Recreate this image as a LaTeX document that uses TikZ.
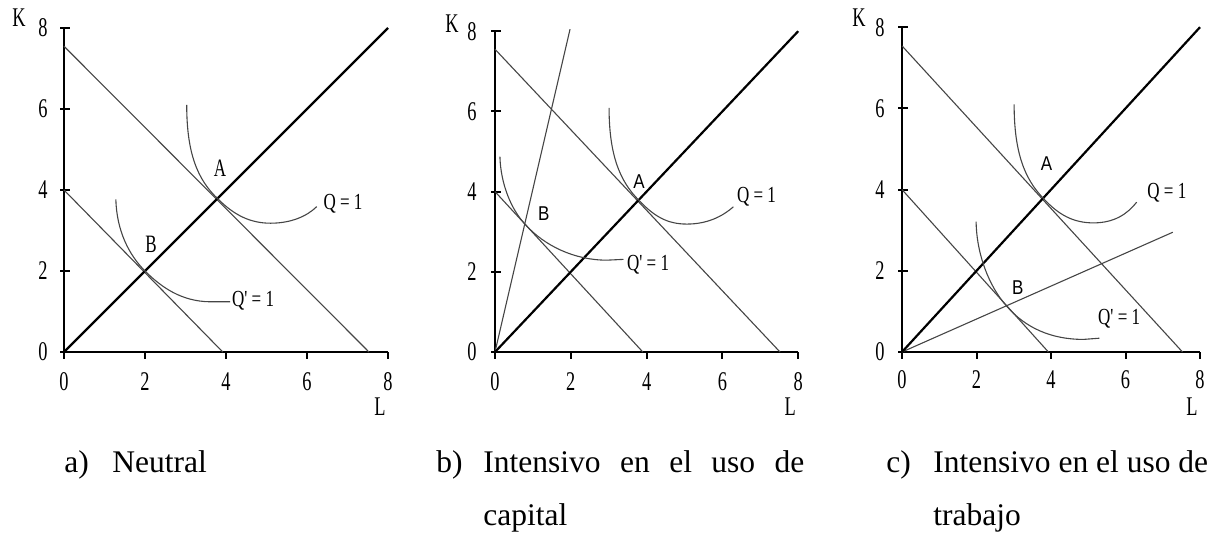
\documentclass[tikz,border=0pt]{standalone}
\usepackage{fontspec}
\setmainfont{Liberation Serif}
\newfontfamily\kserif[FakeStretch=0.68]{Liberation Serif}
\newfontfamily\qserif[FakeStretch=0.74]{Liberation Serif}
\newfontfamily\ksans[FakeStretch=0.85]{Liberation Sans}
\usepackage{tikz}
\usetikzlibrary{positioning,calc}
\definecolor{isoline}{rgb}{0.27,0.27,0.27}

\begin{document}
\begin{tikzpicture}[
  x=0.5pt, y=-0.5pt,
  axis/.style={black, line width=1pt},
  ray/.style={black, line width=1.1pt},
  thin/.style={isoline, line width=0.55pt},
  tick label/.style={inner sep=0pt, font=\kserif\fontsize{13.5}{13.5}\selectfont},
  axis label/.style={inner sep=0pt, font=\kserif\fontsize{13.5}{13.5}\selectfont},
  qlabel/.style={inner sep=0pt, font=\qserif\fontsize{11.5}{11.5}\selectfont},
  pt label/.style={inner sep=0pt, font=\kserif\fontsize{12.5}{12.5}\selectfont},
  pt sans/.style={inner sep=0pt, font=\ksans\fontsize{10}{10}\selectfont},
  caption/.style={inner sep=0pt, anchor=base west, font=\fontsize{15.75}{26.5}\selectfont}
]
\useasboundingbox (0,0) rectangle (1212,535);

% a) neutral
\begin{scope}[shift={(64,352)}, x={(20.25pt,0pt)}, y={(0pt,20.25pt)}]
  \draw[axis] (0,8) -- (0,0) -- (8,0);
  \foreach \k in {0,2,4,6,8} {
    \draw[axis] ($(0,\k)+(-2pt,0)$) -- ++(5pt,0);
    \draw[axis] (\k,0) -- ++(0,-3.5pt);
    \node[tick label, anchor=east, xshift=-8pt] (ya\k) at (0,\k) {\k};
    \node[tick label, anchor=north, yshift=-10pt] (xa\k) at (\k,0) {\k};
  }
  \node[axis label] (ka) at ($(0,8)+(-22.5pt,5pt)$) {K};
  \node[axis label] (la) at ($(8,0)+(-4pt,-27.5pt)$) {L};
  \draw[thin] (0,7.55) -- (7.53,0);
  \draw[thin] (0,4) -- (3.92,0);
  \draw[ray] (0,0) -- (8,8);
  \draw[thin] (3.03,6.1) .. controls (3.03,4.9) and (3.3,4.25) .. (3.8,3.78)
    .. controls (4.2,3.38) and (4.6,3.18) .. (5.1,3.18)
    .. controls (5.6,3.18) and (6.0,3.35) .. (6.24,3.59);
  \draw[thin] (1.28,3.77) .. controls (1.3,3.0) and (1.6,2.4) .. (2,2)
    .. controls (2.4,1.6) and (2.9,1.25) .. (3.6,1.24) -- (4.1,1.24);
  \node[pt label] (pa) at (3.85,4.54) {A};
  \node[pt label] (pb) at (2.15,2.67) {B};
  \node[qlabel] (qa) at (6.89,3.65) {Q = 1};
  \node[qlabel] (qpa) at (4.67,1.26) {Q' = 1};
\end{scope}

% b) capital intensive
\begin{scope}[shift={(495,352)}, x={(18.95pt,0pt)}, y={(0pt,20.05pt)}]
  \draw[axis] (0,8) -- (0,0) -- (8,0);
  \foreach \k in {0,2,4,6,8} {
    \draw[axis] ($(0,\k)+(-2pt,0)$) -- ++(5pt,0);
    \draw[axis] (\k,0) -- ++(0,-3.5pt);
    \node[tick label, anchor=east, xshift=-9pt] (yb\k) at (0,\k) {\k};
    \node[tick label, anchor=north, yshift=-10pt] (xb\k) at (\k,0) {\k};
  }
  \node[axis label] (kb) at ($(0,8)+(-21.5pt,4pt)$) {K};
  \node[axis label] (lb) at ($(8,0)+(-4pt,-27.5pt)$) {L};
  \draw[thin] (0,7.55) -- (7.52,0);
  \draw[thin] (0,4) -- (3.9,0);
  \draw[thin] (0,0) -- (1.98,8.05);
  \draw[ray] (0,0) -- (8,8);
  \draw[thin] (3.01,6.09) .. controls (3.01,4.9) and (3.3,4.25) .. (3.8,3.78)
    .. controls (4.2,3.38) and (4.55,3.19) .. (5.06,3.19)
    .. controls (5.6,3.19) and (6.0,3.38) .. (6.29,3.62);
  \draw[thin] (0.13,4.87) .. controls (0.15,4.2) and (0.42,3.56) .. (0.8,3.18)
    .. controls (1.3,2.65) and (2.1,2.29) .. (2.95,2.29) -- (3.39,2.31);
  \node[pt sans] (pa2) at (3.80,4.25) {A};
  \node[pt sans] (pb2) at (1.29,3.46) {B};
  \node[qlabel] (qb) at (6.90,3.87) {Q = 1};
  \node[qlabel] (qpb) at (4.04,2.17) {Q' = 1};
\end{scope}

% c) labour intensive
\begin{scope}[shift={(902,352)}, x={(18.625pt,0pt)}, y={(0pt,20.3pt)}]
  \draw[axis] (0,8) -- (0,0) -- (8,0);
  \foreach \k in {0,2,4,6,8} {
    \draw[axis] ($(0,\k)+(-2pt,0)$) -- ++(5pt,0);
    \draw[axis] (\k,0) -- ++(0,-3.5pt);
    \node[tick label, anchor=east, xshift=-8.5pt] (yc\k) at (0,\k) {\k};
    \node[tick label, anchor=north, yshift=-9pt] (xc\k) at (\k,0) {\k};
  }
  \node[axis label] (kc) at ($(0,8)+(-21.5pt,5pt)$) {K};
  \node[axis label] (lc) at ($(8,0)+(-4pt,-27.5pt)$) {L};
  \draw[thin] (0,7.54) -- (7.53,0);
  \draw[thin] (0,4) -- (3.93,0);
  \draw[thin] (0,0) -- (7.27,2.95);
  \draw[ray] (0,0) -- (8,8);
  \draw[thin] (3.01,6.1) .. controls (3.01,4.9) and (3.3,4.25) .. (3.8,3.78)
    .. controls (4.2,3.38) and (4.6,3.18) .. (5.14,3.18)
    .. controls (5.7,3.18) and (6.05,3.4) .. (6.3,3.69);
  \draw[thin] (1.99,3.21) .. controls (2.0,2.4) and (2.35,1.6) .. (2.8,1.14)
    .. controls (3.3,0.6) and (4.0,0.31) .. (4.87,0.31) -- (5.3,0.34);
  \node[pt sans] (pa3) at (3.88,4.65) {A};
  \node[pt sans] (pb3) at (3.11,1.59) {B};
  \node[qlabel] (qc) at (7.11,3.92) {Q = 1};
  \node[qlabel] (qpc) at (5.83,0.81) {Q' = 1};
\end{scope}

% captions
\node[caption] (capa) at (64,472) {a)};
\node[caption] (neutral) at (112,472) {Neutral};
\node[caption] (capb) at (436,472) {b)};
\node[caption] (intb) at (483,472) {\makebox[160.5pt][s]{Intensivo en el uso de}};
\node[caption] (capital) at (483,525) {capital};
\node[caption] (capc) at (886,472) {c)};
\node[caption] (intc) at (933,472) {Intensivo en el uso de};
\node[caption] (trabajo) at (933,525) {trabajo};

\end{tikzpicture}
\end{document}
